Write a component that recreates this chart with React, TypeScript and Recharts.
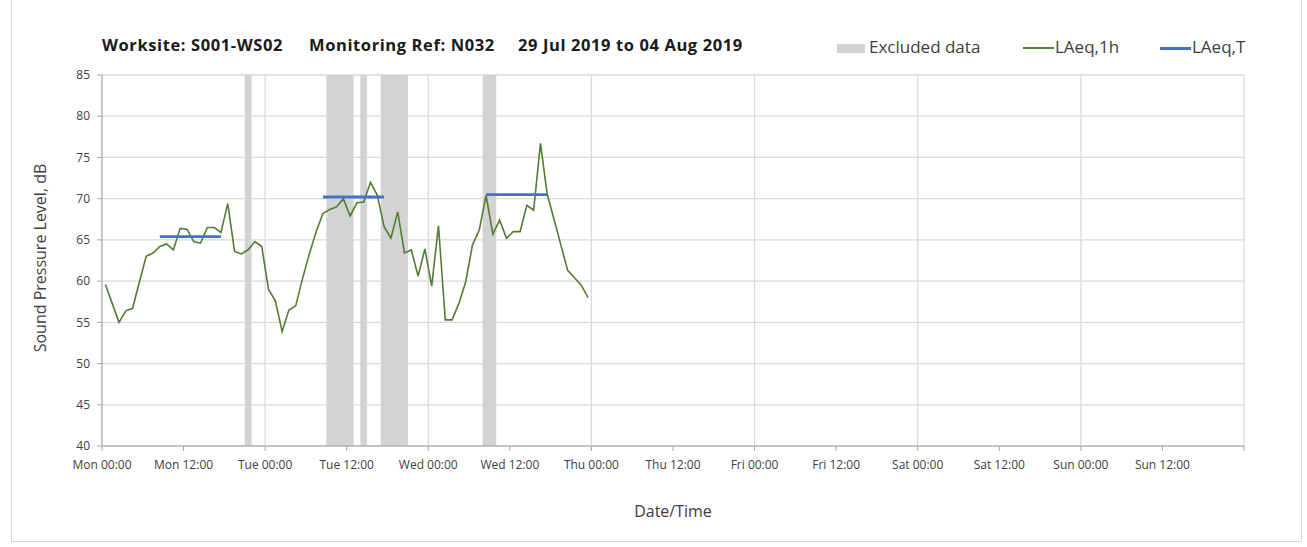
import { ComposedChart, Line, XAxis, YAxis, CartesianGrid, ReferenceArea } from 'recharts';

const DAYS = ['Mon', 'Tue', 'Wed', 'Thu', 'Fri', 'Sat', 'Sun'];
const X_TICKS = [0, 12, 24, 36, 48, 60, 72, 84, 96, 108, 120, 132, 144, 156, 168];
const DAY_LINES = [0, 24, 48, 72, 96, 120, 144, 168];
const Y_TICKS = [40, 45, 50, 55, 60, 65, 70, 75, 80, 85];

// hourly LAeq,1h from Mon 00:00, plotted at the middle of each hour
const LAEQ_1H = [
    59.6, 57.3, 55.0, 56.4, 56.7, 59.9, 63.0, 63.4, 64.2, 64.5, 63.8, 66.4,
    66.3, 64.8, 64.6, 66.5, 66.5, 65.9, 69.4, 63.6, 63.3, 63.8, 64.8, 64.2,
    59.0, 57.6, 53.9, 56.5, 57.0, 60.3, 63.3, 66.0, 68.2, 68.7, 69.0, 70.0,
    67.9, 69.5, 69.6, 72.0, 70.4, 66.6, 65.2, 68.4, 63.4, 63.8, 60.6, 63.9,
    59.4, 66.7, 55.3, 55.3, 57.3, 59.9, 64.4, 66.2, 70.4, 65.7, 67.4, 65.2,
    66.0, 66.0, 69.2, 68.6, 76.7, 70.5, 67.5, 64.4, 61.3, 60.4, 59.5, 58.0,
];

// excluded periods, hours from Mon 00:00
const EXCLUDED_FROM = [21, 33, 38, 41, 56];
const EXCLUDED_TO = [22, 37, 39, 45, 58];

// LAeq,T over the working day
const PERIOD_FROM = [8.5, 32.5, 56.5];
const PERIOD_TO = [17.5, 41.5, 65.5];
const PERIOD_LEVEL = [65.4, 70.2, 70.5];

const FONT = '"Open Sans", sans-serif';
const TEXT = '#404040';
const GREEN = '#507d32';
const BLUE = '#4472c4';
const GREY_BAND = '#d3d3d3';

const data = LAEQ_1H.map((v, i) => {
    const t = i + 0.5;
    const p = PERIOD_FROM.findIndex((f, k) => t >= f && t <= PERIOD_TO[k]);
    return { t, laeq1h: v, laeqT: p >= 0 ? PERIOD_LEVEL[p] : null };
});

const fmtTick = (v: number) => {
    if (v >= 168) return '';
    const day = DAYS[Math.floor(v / 24)];
    return `${day} ${v % 24 === 0 ? '00:00' : '12:00'}`;
};

const titleStyle: any = {
    position: 'absolute', top: 33, fontSize: 16.5, fontWeight: 700, letterSpacing: 0.6,
    color: '#1a1a1a', whiteSpace: 'nowrap',
};
const legendText: any = { position: 'absolute', top: 35, fontSize: 17, color: TEXT, whiteSpace: 'nowrap' };

export default function App() {
    return (
        <div style={{ position: 'absolute', left: 0, top: 0, width: 1307, height: 547, background: '#fff', fontFamily: FONT }}>
            <div style={{ position: 'absolute', left: 11, top: -2, width: 1289, height: 542, border: '1px solid #d9d9d9' }} />

            {/* title */}
            <div style={{ ...titleStyle, left: 102 }}>Worksite: S001-WS02</div>
            <div style={{ ...titleStyle, left: 309 }}>Monitoring Ref: N032</div>
            <div style={{ ...titleStyle, left: 518 }}>29 Jul 2019 to 04 Aug 2019</div>

            {/* legend */}
            <div style={{ position: 'absolute', left: 837, top: 44, width: 28, height: 9, background: GREY_BAND }} />
            <div style={{ ...legendText, left: 869 }}>Excluded data</div>
            <div style={{ position: 'absolute', left: 1023, top: 47, width: 31, height: 1.6, background: GREEN }} />
            <div style={{ ...legendText, left: 1055 }}>LAeq,1h</div>
            <div style={{ position: 'absolute', left: 1160, top: 47, width: 31, height: 2.6, background: BLUE }} />
            <div style={{ ...legendText, left: 1192 }}>LAeq,T</div>

            {/* axis titles */}
            <div style={{ position: 'absolute', left: 0, width: 1346, top: 500, textAlign: 'center', fontSize: 16, color: TEXT }}>Date/Time</div>
            <div style={{ position: 'absolute', left: 40, top: 258, fontSize: 16, color: TEXT, whiteSpace: 'nowrap', transform: 'translate(-50%, -50%) rotate(-90deg)' }}>Sound Pressure Level, dB</div>

            <div style={{ position: 'absolute', left: 0, top: 0 }}>
                <ComposedChart width={1307} height={547} data={data} margin={{ top: 75, right: 63, bottom: 71, left: 62 }}>
                    {EXCLUDED_FROM.map((f, i) => (
                        <ReferenceArea key={`ex-${i}`} x1={f} x2={EXCLUDED_TO[i]} y1={40} y2={85} fill={GREY_BAND} fillOpacity={1} stroke="none" ifOverflow="visible" />
                    ))}
                    <CartesianGrid stroke="#d9d9d9" strokeWidth={1.3} verticalValues={DAY_LINES} horizontalValues={Y_TICKS} />
                    <XAxis
                        type="number"
                        dataKey="t"
                        domain={[0, 168]}
                        ticks={X_TICKS}
                        interval={0}
                        tickFormatter={fmtTick}
                        height={30}
                        tickSize={5}
                        tickMargin={9}
                        stroke="#a6a6a6"
                        tick={{ fontSize: 12, fill: TEXT, fontFamily: FONT }}
                    />
                    <YAxis
                        type="number"
                        domain={[40, 85]}
                        ticks={Y_TICKS}
                        interval={0}
                        width={40}
                        tickSize={5}
                        tickMargin={7}
                        stroke="#a6a6a6"
                        tick={{ fontSize: 12, fill: TEXT, fontFamily: FONT }}
                    />
                    <Line type="linear" dataKey="laeq1h" stroke={GREEN} strokeWidth={1.6} dot={false} isAnimationActive={false} />
                    <Line type="linear" dataKey="laeqT" stroke={BLUE} strokeWidth={2.8} dot={false} connectNulls={false} isAnimationActive={false} />
                </ComposedChart>
            </div>
        </div>
    );
}
